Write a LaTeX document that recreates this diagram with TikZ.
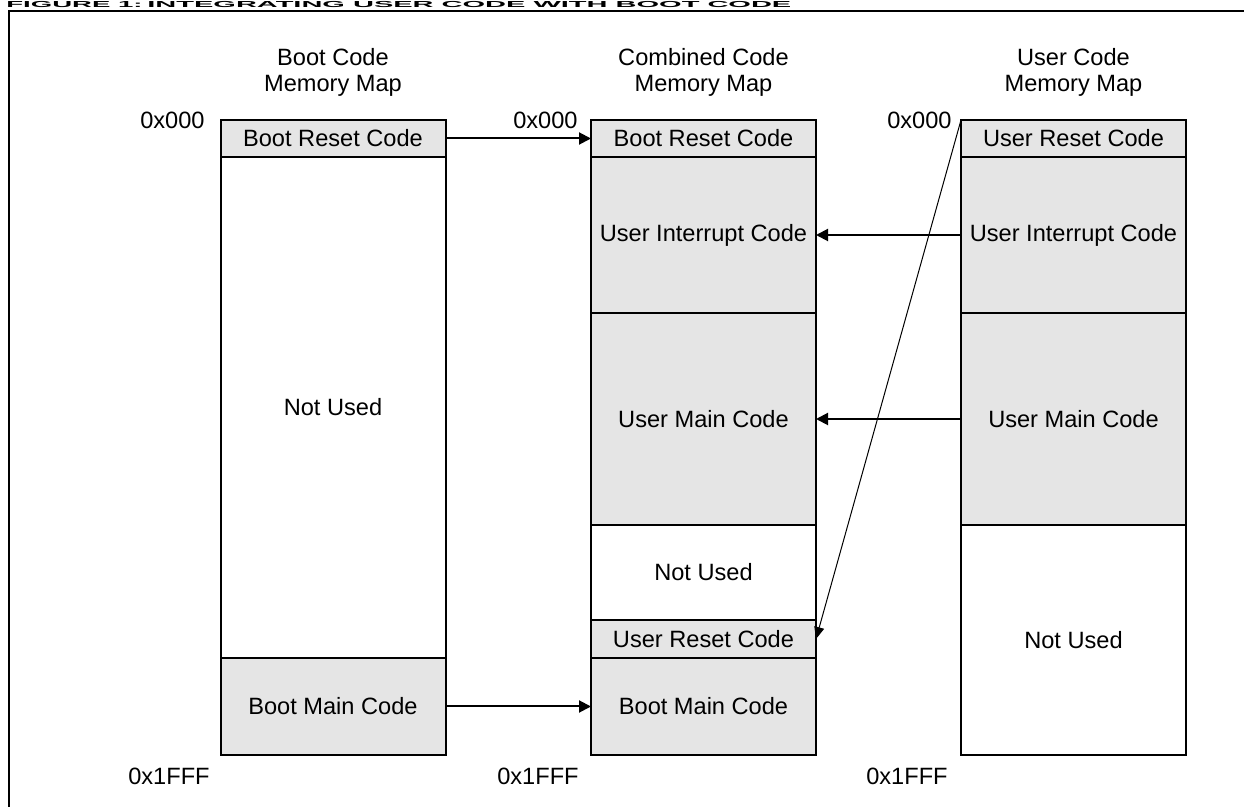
\documentclass[tikz,border=0pt]{standalone}
\usepackage{fontspec}
\setmainfont{Liberation Sans}
\usetikzlibrary{arrows.meta}
\definecolor{codegray}{gray}{0.9}
\begin{document}
\begin{tikzpicture}[x=0.5pt,y=-0.5pt,>={Triangle[length=6pt,width=6pt]},
    every node/.style={font=\fontsize{11.8}{13}\selectfont},
    mem/.style={draw,line width=1pt,minimum width=112.5pt,inner sep=0pt,outer sep=0pt},
    used/.style={mem,fill=codegray},
    addr/.style={anchor=east,inner sep=0pt},
    head/.style={align=center,inner sep=0pt},
    title/.style={anchor=base west,inner sep=0pt,font=\bfseries\fontsize{14.5}{16}\selectfont}]
    \useasboundingbox (0,0) rectangle (1244,807);
    % caption, squeezed into the strip above the frame
    \node[title] (fignum) at (6,8) {\scalebox{0.95}[0.3]{FIGURE 1:}};
    \node[title] (figtitle) at (147,8) {\scalebox{1}[0.3]{INTEGRATING USER CODE WITH BOOT CODE}};
    \draw[line width=1.25pt] (9,830) -- (9,11) -- (1260,11);
    % column heads
    \node[head] (bhead) at (333,72.5) {Boot Code\\Memory Map};
    \node[head] (chead) at (703.5,72.5) {Combined Code\\Memory Map};
    \node[head] (uhead) at (1073.5,72.5) {User Code\\Memory Map};
    % boot code
    \node[used,minimum height=18.5pt] (breset) at (333,138.5) {Boot Reset Code};
    \node[mem,minimum height=250.5pt] (bfree) at (333,407.5) {Not Used};
    \node[used,minimum height=48.5pt] (bmain) at (333,706.5) {Boot Main Code};
    % combined code
    \node[used,minimum height=18.5pt] (creset) at (703.5,138.5) {Boot Reset Code};
    \node[used,minimum height=78pt] (cint) at (703.5,235) {User Interrupt Code};
    \node[used,minimum height=106pt] (cmain) at (703.5,419) {User Main Code};
    \node[mem,minimum height=47.5pt] (cfree) at (703.5,572.5) {Not Used};
    \node[used,minimum height=19pt] (cureset) at (703.5,639) {User Reset Code};
    \node[used,minimum height=48.5pt] (cboot) at (703.5,706.5) {Boot Main Code};
    % user code
    \node[used,minimum height=18.5pt] (ureset) at (1073.5,138.5) {User Reset Code};
    \node[used,minimum height=78pt] (uint) at (1073.5,235) {User Interrupt Code};
    \node[used,minimum height=106pt] (umain) at (1073.5,419) {User Main Code};
    \node[mem,minimum height=115pt] (ufree) at (1073.5,640) {Not Used};
    % addresses
    \node[addr] (btop) at (205,120) {0x000};
    \node[addr] (ctop) at (578,120) {0x000};
    \node[addr] (utop) at (952,120) {0x000};
    \node[addr] (bend) at (210,776) {0x1FFF};
    \node[addr] (cend) at (579,776) {0x1FFF};
    \node[addr] (uend) at (948,776) {0x1FFF};
    % moves
    \draw[->,line width=1pt] (breset) -- (creset);
    \draw[->,line width=1pt] (bmain) -- (cboot);
    \draw[->,line width=1pt] (uint) -- (cint);
    \draw[->,line width=1pt] (umain) -- (cmain);
    \draw[->,line width=0.5pt,>={Triangle[length=6pt,width=5pt]}] (ureset.north west) -- (cureset.east);
\end{tikzpicture}
\end{document}
